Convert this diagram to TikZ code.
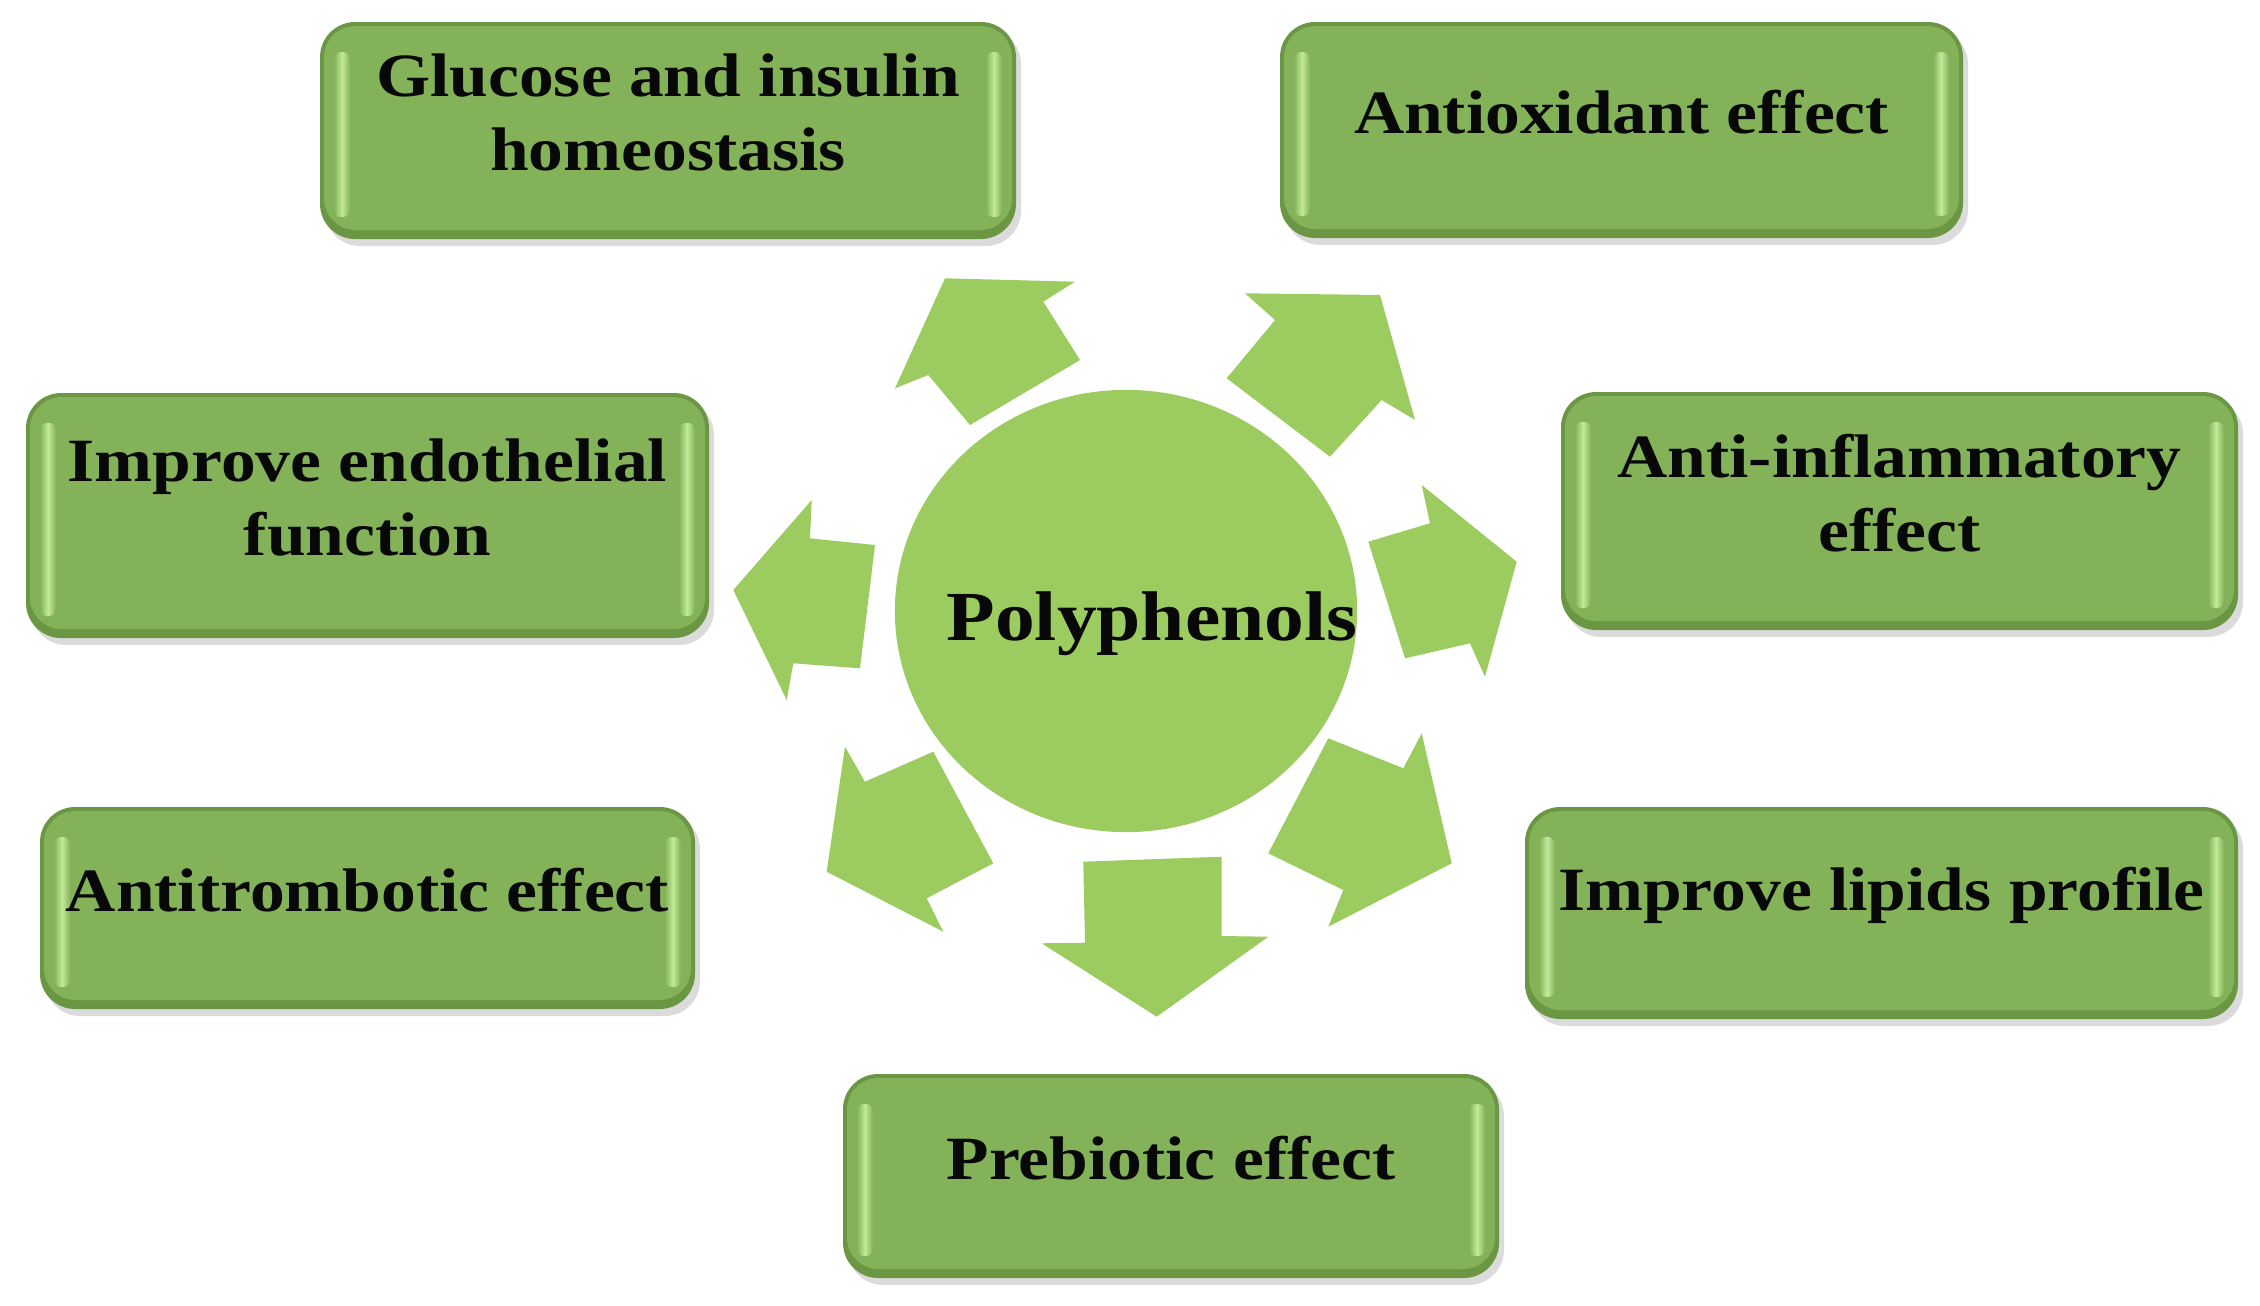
\documentclass[tikz,border=0pt]{standalone}
\usepackage{fontspec}
\setmainfont{Liberation Serif}
\newfontfamily\labfont[FakeStretch=1.13]{Liberation Serif}
\usetikzlibrary{shapes.geometric}
\definecolor{arrowgreen}{HTML}{9CCB60}
\definecolor{boxface}{HTML}{83B259}
\definecolor{boxedge}{HTML}{6B9644}
\definecolor{boxlight}{HTML}{C4EA98}
\definecolor{inkc}{HTML}{080808}
\tikzset{
  boxtext/.style={text=inkc, align=center, inner sep=0pt,
    font=\labfont\bfseries\fontsize{17.5pt}{21pt}\selectfont},
  centretext/.style={text=inkc, inner sep=0pt,
    font=\labfont\bfseries\fontsize{20pt}{24pt}\selectfont},
  arrowshape/.style={fill=arrowgreen},
  hub/.style={ellipse, fill=arrowgreen, inner sep=0pt,
    minimum width=4.62cm, minimum height=4.42cm}
}
\newcommand\bevelbox[6]{%
  \fill[black,opacity=.14,rounded corners=10pt] ({#2+5},{#3+7}) rectangle ({#4+5},{#5+7});
  \fill[boxedge,rounded corners=10pt] (#2,#3) rectangle (#4,#5);
  \fill[boxface,rounded corners=9pt] ({#2+4},{#3+4}) rectangle ({#4-4},{#5-9});
  \shade[left color=boxface,right color=boxface,middle color=boxlight,rounded corners=2pt] ({#2+14},{#3+30}) rectangle ({#2+30},{#5-22});
  \shade[left color=boxface,right color=boxface,middle color=boxlight,rounded corners=2pt] ({#4-30},{#3+30}) rectangle ({#4-14},{#5-22});
  \node[boxtext] (#1) at ({(#2+#4)/2},{(#3+#5)/2-18}) {#6};
}
\begin{document}
\begin{tikzpicture}[x=0.01cm,y=-0.01cm]
\useasboundingbox[fill=white] (0,0) rectangle (2260,1306);

% boxes
\bevelbox{glu}{320}{22}{1016}{239}{Glucose and insulin\\homeostasis}
\bevelbox{aox}{1280}{22}{1963}{238}{Antioxidant effect}
\bevelbox{endo}{26}{393}{709}{638}{Improve endothelial\\function}
\bevelbox{ainf}{1561}{392}{2238}{630}{Anti-inflammatory\\effect}
\bevelbox{atr}{40}{807}{695}{1009}{Antitrombotic effect}
\bevelbox{lip}{1525}{807}{2238}{1019}{Improve lipids profile}
\bevelbox{preb}{843}{1074}{1499}{1278}{Prebiotic effect}

% central circle
\node[hub] (poly) at (1126,611) {};
\node[centretext] (polytext) at (1152,624) {Polyphenols};

% block arrows
\fill[arrowshape] (895,388.3) -- (928.3,375) -- (970,425) -- (1080,360) -- (1043.3,301.7) -- (1075,281.7) -- (945,278.3) -- cycle;
\fill[arrowshape] (1245,293.3) -- (1275,320) -- (1226.7,378.3) -- (1330,456.7) -- (1381.7,400) -- (1415,420) -- (1380,295) -- cycle;
\fill[arrowshape] (1421.7,485) -- (1430,523.3) -- (1368.3,541.7) -- (1405,658.3) -- (1470,643.3) -- (1485,676.7) -- (1516.7,561.7) -- cycle;
\fill[arrowshape] (1421.7,733.3) -- (1403.3,768.3) -- (1328.3,738.3) -- (1268.3,853.3) -- (1343.3,890) -- (1328.3,926.7) -- (1451.7,863.3) -- cycle;
\fill[arrowshape] (1268.3,936.7) -- (1221.7,936) -- (1221.7,856.7) -- (1083.3,861.7) -- (1085,942.7) -- (1041.7,943.3) -- (1156.7,1016.7) -- cycle;
\fill[arrowshape] (845,746.7) -- (865,781.7) -- (933.3,751.7) -- (993.3,863.3) -- (926.7,898.3) -- (943.3,931.7) -- (826.7,871.7) -- cycle;
\fill[arrowshape] (811.7,500) -- (810,538.3) -- (875,545) -- (860,668.3) -- (793.3,663.3) -- (786.7,700) -- (733.3,590) -- cycle;
\end{tikzpicture}
\end{document}
